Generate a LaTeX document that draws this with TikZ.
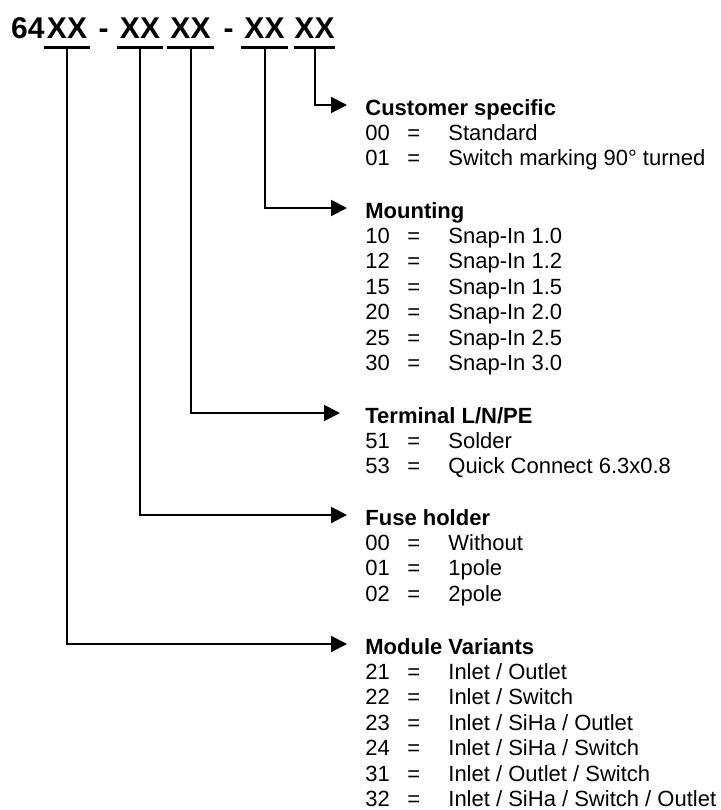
\documentclass[tikz,border=0pt]{standalone}
\usepackage{fontspec}
\setmainfont{Liberation Sans}
\usetikzlibrary{arrows.meta, calc}

\begin{document}
\begin{tikzpicture}[
    x=0.5pt, y=-0.5pt,
    font=\fontsize{11}{12.8}\selectfont,
    >={Triangle[length=8pt, width=8pt]},
    part/.style={font=\fontsize{15}{17}\selectfont\bfseries, inner sep=0pt, anchor=base},
    field/.style={part, minimum width=23pt, text depth=0pt},
    uline/.style={line width=1.5pt},
    head/.style={font=\fontsize{11}{12.8}\selectfont\bfseries, inner sep=0pt, anchor=base west},
    entry/.style={inner sep=0pt, anchor=base west},
    arrow/.style={->, line width=1pt, draw=black},
  ]
  \useasboundingbox (0,0) rectangle (720,810);

  % order code
  \node[part, anchor=base east] (pre) at (45,38) {64};
  \node[field] (xx1) at (67,38) {XX};
  \node[part] (dash1) at (103.5,38) {-};
  \node[field] (xx2) at (140,38) {XX};
  \node[field] (xx3) at (190.5,38) {XX};
  \node[part] (dash2) at (228.5,38) {-};
  \node[field] (xx4) at (264.5,38) {XX};
  \node[field, minimum width=20.5pt] (xx5) at (314.5,38) {XX};
  \foreach \n in {1,...,5} {
    \draw[uline] ([yshift=-4.5pt]xx\n.south west) -- ([yshift=-4.5pt]xx\n.south east);
    \coordinate (tap\n) at ([yshift=-4.5pt]xx\n.south);
  }

  % field descriptions
  \node[head] (cust)  at (365,115) {Customer specific};
  \node[head] (mount) at (365,218) {Mounting};
  \node[head] (term)  at (365,423) {Terminal L/N/PE};
  \node[head] (fuse)  at (365,525) {Fuse holder};
  \node[head] (modv)  at (365,654) {Module Variants};

  \foreach \code/\desc [count=\i] in {00/Standard, 01/{Switch marking 90° turned}}
    \node[entry] (cust-\i) at ($(cust.base west)+(0,25.4*\i)$)
      {\makebox[21pt][l]{\code}\makebox[20.5pt][l]{=}\desc};
  \foreach \code/\desc [count=\i] in {10/Snap-In 1.0, 12/Snap-In 1.2, 15/Snap-In 1.5,
      20/Snap-In 2.0, 25/Snap-In 2.5, 30/Snap-In 3.0}
    \node[entry] (mount-\i) at ($(mount.base west)+(0,25.4*\i)$)
      {\makebox[21pt][l]{\code}\makebox[20.5pt][l]{=}\desc};
  \foreach \code/\desc [count=\i] in {51/Solder, 53/Quick Connect 6.3x0.8}
    \node[entry] (term-\i) at ($(term.base west)+(0,25.4*\i)$)
      {\makebox[21pt][l]{\code}\makebox[20.5pt][l]{=}\desc};
  \foreach \code/\desc [count=\i] in {00/Without, 01/1pole, 02/2pole}
    \node[entry] (fuse-\i) at ($(fuse.base west)+(0,25.4*\i)$)
      {\makebox[21pt][l]{\code}\makebox[20.5pt][l]{=}\desc};
  \foreach \code/\desc [count=\i] in {21/{Inlet / Outlet}, 22/{Inlet / Switch},
      23/{Inlet / SiHa / Outlet}, 24/{Inlet / SiHa / Switch},
      31/{Inlet / Outlet / Switch}, 32/{Inlet / SiHa / Switch / Outlet}}
    \node[entry] (modv-\i) at ($(modv.base west)+(0,25.4*\i)$)
      {\makebox[21pt][l]{\code}\makebox[20.5pt][l]{=}\desc};

  % connectors
  \draw[arrow] (tap5) |- ($(cust.base west)+(-18,-10)$);
  \draw[arrow] (tap4) |- ($(mount.base west)+(-18,-10)$);
  \draw[arrow] (tap3) |- ($(term.base west)+(-25,-10)$);
  \draw[arrow] (tap2) |- ($(fuse.base west)+(-18,-10)$);
  \draw[arrow] (tap1) |- ($(modv.base west)+(-18,-10)$);
\end{tikzpicture}
\end{document}
